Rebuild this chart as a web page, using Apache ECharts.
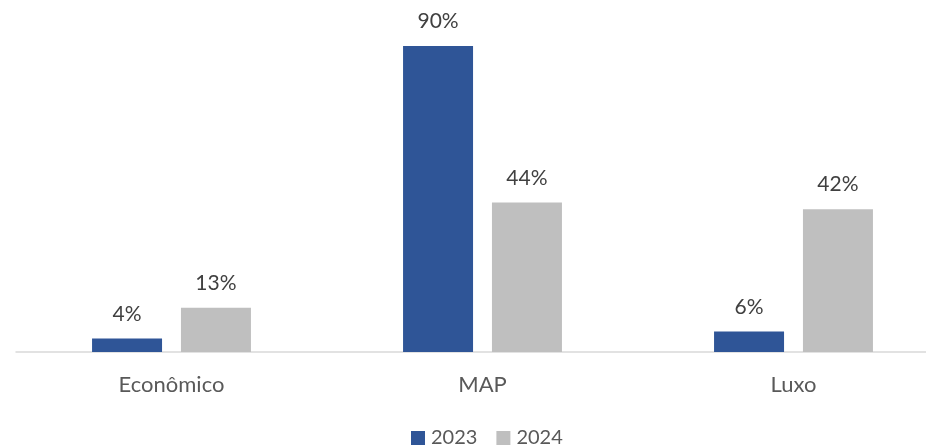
<!DOCTYPE html>
<html>
<head>
<meta charset="utf-8">
<script src="https://cdn.jsdelivr.net/npm/echarts@6/dist/echarts.min.js"></script>
<style>
  html, body { margin: 0; padding: 0; background: #fff; }
  #chart { width: 926px; height: 446px; }
</style>
</head>
<body>
<div id="chart"></div>
<script>
// Segment categories and yearly shares (%)
const categories = ['Econômico', 'MAP', 'Luxo'];
const seriesNames = ['2023', '2024'];
const values2023 = [4, 90, 6];
const values2024 = [13, 44, 42];

const FONT = 'Lato, "Open Sans", sans-serif';
const chart = echarts.init(document.getElementById('chart'));

const labelStyle = {
  show: true,
  position: 'top',
  distance: 14,
  formatter: p => p.value + '%',
  color: '#404040',
  fontFamily: FONT,
  fontSize: 21
};

chart.setOption({
  animation: false,
  // plot area runs past the right edge, so the axis line is cut off there
  grid: { left: 16, width: 933, top: 12, bottom: 94, outerBoundsMode: 'none', containLabel: false },
  legend: {
    top: 428,
    left: 411,
    padding: 0,
    itemWidth: 14,
    itemHeight: 14,
    itemGap: 19,
    icon: 'rect',
    textStyle: { color: '#595959', fontFamily: FONT, fontSize: 20, padding: [0, 0, 0, 1] },
    data: seriesNames
  },
  xAxis: {
    type: 'category',
    data: categories,
    axisLine: { lineStyle: { color: '#D9D9D9', width: 1.5 } },
    axisTick: { show: false },
    axisLabel: { color: '#595959', fontFamily: FONT, fontSize: 22, margin: 22 }
  },
  yAxis: {
    type: 'value',
    min: 0,
    max: 100,
    show: false,
    splitLine: { show: false }
  },
  series: [
    {
      name: seriesNames[0],
      type: 'bar',
      data: values2023,
      barWidth: 70,
      barGap: '27%',
      itemStyle: { color: '#2F5597' },
      label: labelStyle
    },
    {
      name: seriesNames[1],
      type: 'bar',
      data: values2024,
      barWidth: 70,
      barGap: '27%',
      itemStyle: { color: '#BFBFBF' },
      label: labelStyle
    }
  ]
});
</script>
</body>
</html>
